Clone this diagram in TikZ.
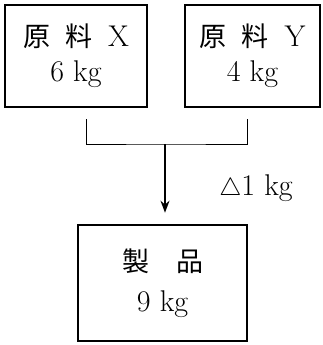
\documentclass[tikz,border=0pt]{standalone}
\usepackage{fontspec}
\newfontfamily\cjk{Noto Sans CJK JP}
\newcommand\jp[1]{{\fontsize{27}{35}\selectfont\cjk #1}}
\usetikzlibrary{arrows.meta}
\begin{document}
\begin{tikzpicture}[x=1pt,y=1pt,
  box/.style={draw,line width=2.6pt,align=center,inner sep=0pt,font=\fontsize{30}{35}\selectfont},
  thin/.style={line width=0.9pt},
  flow/.style={line width=1.8pt,-{Stealth[length=12pt,width=9pt]}}]
\useasboundingbox (0,0) rectangle (323,-345);
\node[box,minimum width=142pt,minimum height=102pt] (x) at (76,-56)
  {\jp{原}\hspace{15pt}\jp{料}\hspace{16pt}X\\6 kg};
\node[box,minimum width=135pt,minimum height=102pt] (y) at (252.5,-56)
  {\jp{原}\hspace{15pt}\jp{料}\hspace{16pt}Y\\4 kg};
\node[box,minimum width=169pt,minimum height=116pt,font=\fontsize{30}{40}\selectfont] (p) at (162.5,-283)
  {\jp{製}\hspace{27pt}\jp{品}\\9 kg};
\coordinate (tl) at (86.5,-119);
\coordinate (tr) at (247,-119);
\coordinate (j) at (165,-144);
\draw[thin] (tl) |- (j) -| (tr);
\draw[flow] (j) -- ([yshift=11pt]p.north -| j);
\node[font=\fontsize{30}{32}\selectfont] (loss) at (256,-188) {$\triangle$1 kg};
\end{tikzpicture}
\end{document}
